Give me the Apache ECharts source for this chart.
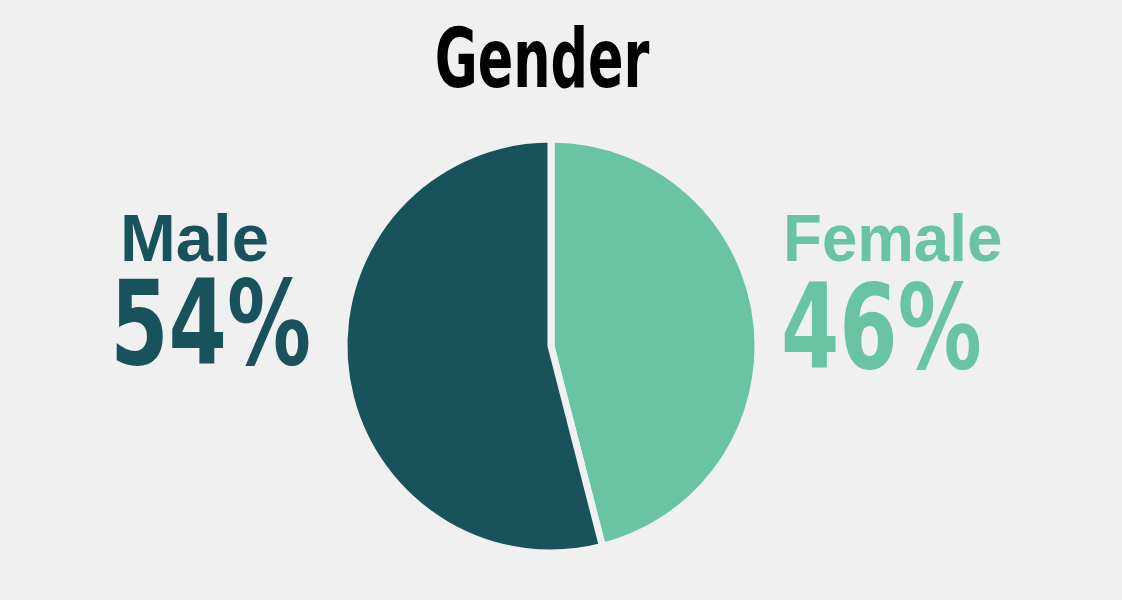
<!DOCTYPE html>
<html><head><meta charset="utf-8">
<script src="https://cdn.jsdelivr.net/npm/echarts@6/dist/echarts.min.js"></script>
<style>html,body{margin:0;padding:0;background:#f0f0f0}#c{width:1122px;height:600px}</style>
</head><body><div id="c"></div>
<script>
const chartTitle = "Gender";
const categories = ["Female", "Male"];
const values = [46, 54];
const colors = ["#68c4a3", "#18535c"];

const chart = echarts.init(document.getElementById('c'));
const narrow = '"DejaVu Sans Condensed", "DejaVu Sans", sans-serif';
const wide = '"Liberation Sans", Arial, sans-serif';
const labelPos = {
  Female: { nameX: 783, pctX: 781, pctY: 396, anchor: 'left' },
  Male: { nameX: 269, pctX: 311, pctY: 392, anchor: 'right' }
};
const graphics = [{
  type: 'text', x: 542, y: 107, scaleX: 0.71,
  style: { x: 0, y: 0, text: chartTitle, fill: '#000', font: 'bold 82px ' + narrow, textAlign: 'center', textVerticalAlign: 'bottom' }
}];
categories.forEach((c, i) => {
  const p = labelPos[c];
  graphics.push({ type: 'text', x: p.nameX, y: 276, scaleX: c === 'Female' ? 0.95 : 1,
    style: { x: 0, y: 0, text: c, fill: colors[i], font: 'bold 67px ' + wide, textAlign: p.anchor, textVerticalAlign: 'bottom' } });
  graphics.push({ type: 'text', x: p.pctX, y: p.pctY, scaleX: 0.79,
    style: { x: 0, y: 0, text: values[i] + '%', fill: colors[i], font: 'bold 118px ' + narrow, textAlign: p.anchor, textVerticalAlign: 'bottom' } });
});
chart.setOption({
  backgroundColor: '#f0f0f0',
  graphic: graphics,
  series: [{
    type: 'pie', center: [551, 346], radius: 207, startAngle: 90, clockwise: true,
    label: { show: false }, labelLine: { show: false }, silent: true,
    itemStyle: { borderColor: '#f0f0f0', borderWidth: 7 },
    data: categories.map((c, i) => ({ name: c, value: values[i], itemStyle: { color: colors[i] } }))
  }]
});
</script></body></html>
